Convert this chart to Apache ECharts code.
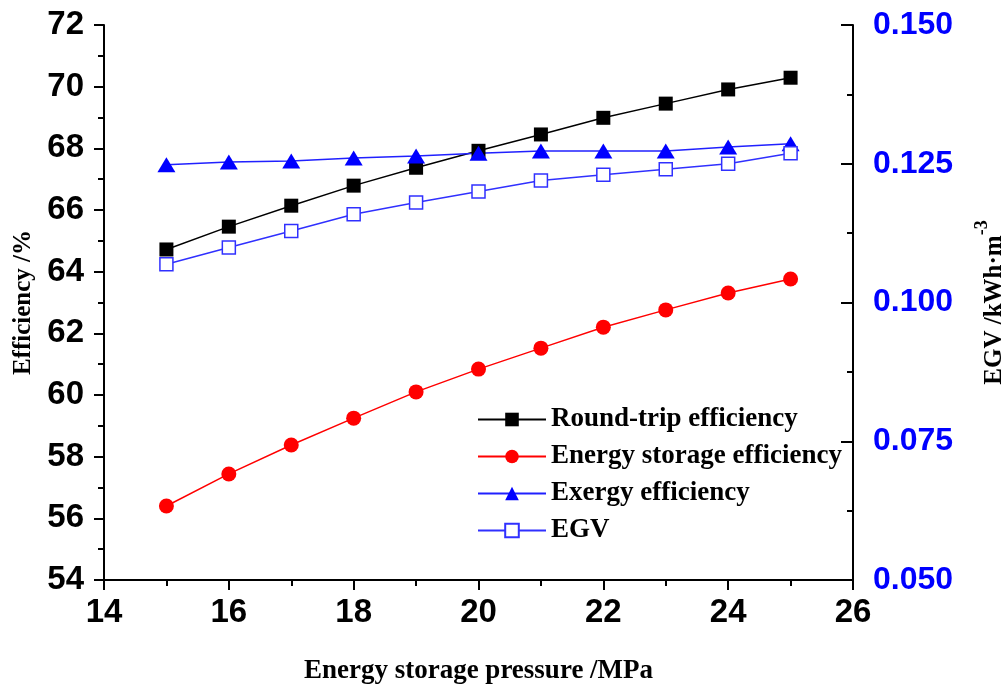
<!DOCTYPE html>
<html>
<head>
<meta charset="utf-8">
<script src="https://cdn.jsdelivr.net/npm/echarts@6/dist/echarts.min.js"></script>
<style>html,body{margin:0;padding:0;background:#fff}#c{width:1007px;height:686px}</style>
</head>
<body>
<div id="c"></div>
<script>
const pressure = [15,16,17,18,19,20,21,22,23,24,25];
const roundTrip = [64.72,65.46,66.14,66.79,67.37,67.92,68.45,68.99,69.45,69.91,70.29];
const energyStorage = [56.40,57.44,58.38,59.25,60.10,60.84,61.52,62.20,62.76,63.31,63.76];
const exergy = [67.47,67.56,67.59,67.69,67.75,67.84,67.91,67.91,67.91,68.04,68.15];
const egv = [0.1069,0.1099,0.1129,0.1159,0.1180,0.1200,0.1220,0.1230,0.1240,0.1250,0.1269];
const seriesNames = ['Round-trip efficiency','Energy storage efficiency','Exergy efficiency','EGV'];

const pairs = arr => pressure.map((p,i)=>[p,arr[i]]);
const serif = 'Liberation Serif';
const sans = 'Liberation Sans';

const chart = echarts.init(document.getElementById('c'), null, {renderer:'canvas'});
chart.setOption({
  animation:false,
  backgroundColor:'#fff',
  grid:{left:104,right:154,top:25,bottom:106,containLabel:false,outerBoundsMode:'none'},
  legend:{
    orient:'vertical', left:472, top:401, itemWidth:68, itemHeight:17, itemGap:10,
    data:seriesNames,
    textStyle:{fontFamily:serif,fontWeight:'bold',fontSize:27,color:'#000'}
  },
  xAxis:{
    type:'value', min:14, max:26, interval:2,
    name:'Energy storage pressure /MPa', nameLocation:'middle', nameGap:78,
    nameTextStyle:{fontFamily:serif,fontWeight:'bold',fontSize:27,color:'#000'},
    axisLine:{show:true,onZero:false,lineStyle:{color:'#000',width:2}},
    axisTick:{show:true,inside:false,length:10,lineStyle:{color:'#000',width:2}},
    minorTick:{show:true,splitNumber:2,length:6,lineStyle:{color:'#000',width:2}},
    axisLabel:{fontFamily:sans,fontWeight:'bold',fontSize:33,color:'#000',margin:16},
    splitLine:{show:false}
  },
  yAxis:[{
    type:'value', min:54, max:72, interval:2, position:'left',
    name:'Efficiency /%', nameLocation:'middle', nameGap:68, nameRotate:90,
    nameTextStyle:{fontFamily:serif,fontWeight:'bold',fontSize:25,color:'#000'},
    axisLine:{show:true,lineStyle:{color:'#000',width:2}},
    axisTick:{show:true,inside:false,length:10,lineStyle:{color:'#000',width:2}},
    minorTick:{show:true,splitNumber:2,length:6,lineStyle:{color:'#000',width:2}},
    axisLabel:{fontFamily:sans,fontWeight:'bold',fontSize:33,color:'#000',margin:20},
    splitLine:{show:false}
  },{
    type:'value', min:0.05, max:0.15, interval:0.025, position:'right',
    name:'{a|EGV /kWh·m}{s|-3}', nameLocation:'middle', nameGap:120, nameRotate:90,
    nameTextStyle:{rich:{
      a:{fontFamily:serif,fontWeight:'bold',fontSize:25,color:'#000',verticalAlign:'bottom',lineHeight:34},
      s:{fontFamily:serif,fontWeight:'bold',fontSize:18,color:'#000',verticalAlign:'top',padding:[0,0,22,0],lineHeight:34}
    }},
    axisLine:{show:true,lineStyle:{color:'#000',width:2}},
    axisTick:{show:true,inside:true,length:12,lineStyle:{color:'#000',width:2}},
    minorTick:{show:true,splitNumber:2,length:6,lineStyle:{color:'#000',width:2}},
    axisLabel:{fontFamily:sans,fontWeight:'bold',fontSize:32,color:'#0000ff',margin:20,
      formatter:v=>v.toFixed(3)},
    splitLine:{show:false}
  }],
  series:[
    {name:seriesNames[0],type:'line',yAxisIndex:0,data:pairs(roundTrip),
      symbol:'rect',symbolSize:14,itemStyle:{color:'#000'},lineStyle:{color:'#000',width:1.5}},
    {name:seriesNames[1],type:'line',yAxisIndex:0,data:pairs(energyStorage),
      symbol:'circle',symbolSize:15,itemStyle:{color:'#ff0000'},lineStyle:{color:'#ff0000',width:1.5}},
    {name:seriesNames[2],type:'line',yAxisIndex:0,data:pairs(exergy),
      symbol:'triangle',symbolSize:[18,15],itemStyle:{color:'#0000ff'},lineStyle:{color:'#2020ff',width:1.5}},
    {name:seriesNames[3],type:'line',yAxisIndex:1,data:pairs(egv),
      symbol:'rect',symbolSize:13,
      itemStyle:{color:'#fff',borderColor:'#3030ff',borderWidth:1.5},
      lineStyle:{color:'#3030ff',width:1.5}}
  ]
});
</script>
</body>
</html>
